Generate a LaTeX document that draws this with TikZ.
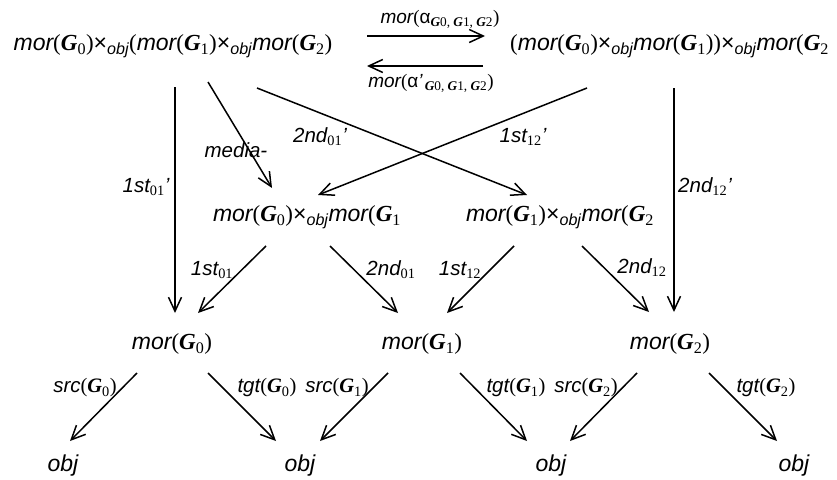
\documentclass[tikz,border=0pt]{standalone}
\usepackage{fontspec}
\setmainfont{Liberation Serif}
\setsansfont{Liberation Sans}
\usetikzlibrary{arrows.meta}
\newcommand\It[1]{{\sffamily\itshape #1}}
\newcommand\Gb[1]{{\rmfamily\bfseries\itshape G}{\rmfamily\textsubscript{#1}}}
\newcommand\Gi[1]{{\rmfamily\bfseries\itshape G}{\rmfamily #1}}
\newcommand\Mor[1]{\It{mor}{\rmfamily(}\Gb{#1}{\rmfamily)}}
\newcommand\Mo[1]{\It{mor}{\rmfamily(}\Gb{#1}}
\newcommand\Xo{{\sffamily ×}\textsubscript{\It{obj}}}
\newcommand\Lp{{\rmfamily(}}
\newcommand\Rp{{\rmfamily)}}
\begin{document}
\begin{tikzpicture}[x=1pt,y=-1pt,
  obj/.style={inner sep=0pt,font=\fontsize{23}{27}\selectfont},
  lab/.style={inner sep=0pt,font=\fontsize{20.5}{24}\selectfont},
  alab/.style={inner sep=0pt,font=\fontsize{19}{23}\selectfont},
  arr/.style={line width=1.5pt,-{Straight Barb[length=14pt,width=13pt,line width=1.5pt]}}]
\useasboundingbox (0,0) rectangle (837,479);
% nodes
\node[obj] (tl) at (173,46) {\Mor0\Xo\Lp\Mor1\Xo\Mor2};
\node[obj,anchor=west] (tr) at (510,46) {\Lp\Mor0\Xo\Mor1\Rp\Xo\Mo2};
\node[obj] (ml) at (307,217) {\Mor0\Xo\Mo1};
\node[obj] (mr) at (560,217) {\Mor1\Xo\Mo2};
\node[obj] (m0) at (172,344) {\Mor0};
\node[obj] (m1) at (422,344) {\Mor1};
\node[obj] (m2) at (670,344) {\Mor2};
\node[obj] (o0) at (63,466) {\It{obj}};
\node[obj] (o1) at (300,466) {\It{obj}};
\node[obj] (o2) at (551,466) {\It{obj}};
\node[obj] (o3) at (794,466) {\It{obj}};
% top pair
\draw[arr] ([shift={(194,-10)}]tl.center) -- ([shift={(-25,-10)}]tr.west);
\draw[arr] ([shift={(-27,20)}]tr.west) -- ([shift={(194,20)}]tl.center);
\node[alab] (la) at (440,19) {\It{mor}\Lp{\sffamily α}\textsubscript{\Gi0, \Gi1, \Gi2}\Rp};
\node[alab] (lb) at (431,83) {\It{mor}\Lp{\sffamily α}\It{’}\textsubscript{\,\Gi0, \Gi1, \Gi2}\Rp};
% from top
\draw[arr] ([shift={(2,41)}]tl.center) -- ([shift={(3,-31)}]m0.center);
\draw[arr] ([shift={(35,36)}]tl.center) -- ([shift={(-35,-29)}]ml.center);
\draw[arr] ([shift={(84,42)}]tl.center) -- ([shift={(-33,-22)}]mr.center);
\draw[arr] ([shift={(77,42)}]tr.west) -- ([shift={(11,-22)}]ml.center);
\draw[arr] ([shift={(164,42)}]tr.west) -- ([shift={(4,-32)}]m2.center);
% middle
\draw[arr] ([shift={(-41,29)}]ml.center) -- ([shift={(26,-31)}]m0.center);
\draw[arr] ([shift={(23,29)}]ml.center) -- ([shift={(-24,-31)}]m1.center);
\draw[arr] ([shift={(-46,29)}]mr.center) -- ([shift={(25,-31)}]m1.center);
\draw[arr] ([shift={(22,29)}]mr.center) -- ([shift={(-21,-32)}]m2.center);
% bottom
\draw[arr] ([shift={(-35,29)}]m0.center) -- ([shift={(7,-25)}]o0.center);
\draw[arr] ([shift={(36,29)}]m0.center) -- ([shift={(-24,-25)}]o1.center);
\draw[arr] ([shift={(-34,29)}]m1.center) -- ([shift={(20,-25)}]o1.center);
\draw[arr] ([shift={(38,29)}]m1.center) -- ([shift={(-24,-25)}]o2.center);
\draw[arr] ([shift={(-33,29)}]m2.center) -- ([shift={(19,-25)}]o2.center);
\draw[arr] ([shift={(39,29)}]m2.center) -- ([shift={(-17,-25)}]o3.center);
% labels
\node[lab] (l1) at (146,187) {\It{1st}\textsubscript{\rmfamily 01}\It{’}};
\node[lab] (l2) at (236,150) {\It{media-}};
\node[lab] (l3) at (320,137) {\It{2nd}\textsubscript{\rmfamily 01}\It{’}};
\node[lab] (l4) at (523,137) {\It{1st}\textsubscript{\rmfamily 12}\It{’}};
\node[lab] (l5) at (705,187) {\It{2nd}\textsubscript{\rmfamily 12}\It{’}};
\node[lab] (l6) at (212,270) {\It{1st}\textsubscript{\rmfamily 01}};
\node[lab] (l7) at (391,270) {\It{2nd}\textsubscript{\rmfamily 01}};
\node[lab] (l8) at (460,270) {\It{1st}\textsubscript{\rmfamily 12}};
\node[lab] (l9) at (642,268) {\It{2nd}\textsubscript{\rmfamily 12}};
\node[lab] (s0) at (85,388) {\It{src}\Lp\Gb0\Rp};
\node[lab] (t0) at (267,388) {\It{tgt}\Lp\Gb0\Rp};
\node[lab] (s1) at (337,388) {\It{src}\Lp\Gb1\Rp};
\node[lab] (t1) at (516,388) {\It{tgt}\Lp\Gb1\Rp};
\node[lab] (s2) at (586,388) {\It{src}\Lp\Gb2\Rp};
\node[lab] (t2) at (766,388) {\It{tgt}\Lp\Gb2\Rp};
\end{tikzpicture}
\end{document}
